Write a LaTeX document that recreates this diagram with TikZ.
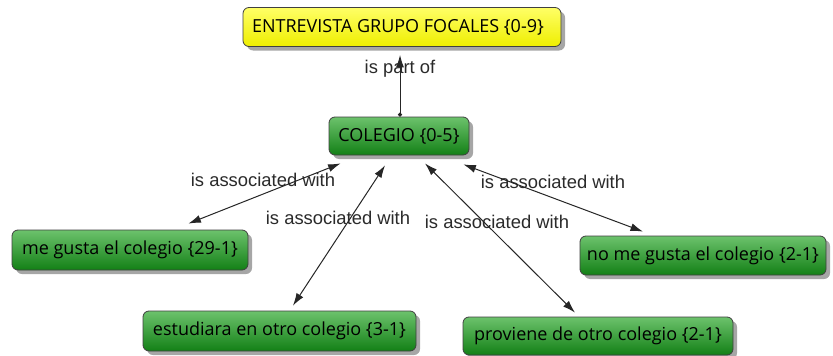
\documentclass[tikz,border=0pt]{standalone}
\usepackage{fontspec}
\setmainfont{Open Sans}
\newfontfamily\labelfont{Liberation Sans}
\usetikzlibrary{shadows,arrows.meta}
\definecolor{gtop}{HTML}{6CC26C}
\definecolor{gbot}{HTML}{138016}
\definecolor{ytop}{HTML}{FFFF66}
\definecolor{ybot}{HTML}{EEEE00}
\definecolor{lbl}{HTML}{2A2A2A}
\begin{document}
\begin{tikzpicture}[x=1pt,y=-1pt,
  concept/.style={draw=black!75, line width=0.8pt, rounded corners=6pt, inner sep=0pt,
    font=\fontsize{18}{20}\selectfont,
    drop shadow={shadow xshift=4pt, shadow yshift=-4pt, fill=black, opacity=0.35}},
  gconcept/.style={concept, top color=gtop, bottom color=gbot},
  yconcept/.style={concept, top color=ytop, bottom color=ybot},
  linklabel/.style={font=\labelfont\fontsize{18.4}{20}\selectfont, text=lbl, inner sep=0pt},
  tip/.tip={Latex[length=12.5pt,width=8pt]},
  conn/.style={line width=1pt, black!85, tip-tip}
]
\fill[white] (0,0) rectangle (833,356);
\useasboundingbox (0,0) rectangle (833,356);

\node[yconcept, minimum width=318pt, minimum height=39pt] (entrevista) at (402,27) {ENTREVISTA GRUPO FOCALES \{0-9\}\hspace*{8pt}};
\node[gconcept, minimum width=140pt, minimum height=38pt] (colegio) at (399,136) {COLEGIO \{0-5\}};
\node[gconcept, minimum width=236pt, minimum height=40pt] (megusta) at (130,250) {me gusta el colegio \{29-1\}};
\node[gconcept, minimum width=273pt, minimum height=40pt] (estudiara) at (279.5,331) {estudiara en otro colegio \{3-1\}};
\node[gconcept, minimum width=270pt, minimum height=38pt] (proviene) at (598,336) {proviene de otro colegio \{2-1\}};
\node[gconcept, minimum width=246pt, minimum height=39pt] (nomegusta) at (703,255.5) {no me gusta el colegio \{2-1\}};

\node[linklabel] (l0) at (400,69) {is part of};
\node[linklabel] (l1) at (263,180) {is associated with};
\node[linklabel] (l2) at (338,218) {is associated with};
\node[linklabel] (l3) at (497,222) {is associated with};
\node[linklabel] (l4) at (553,182) {is associated with};

\draw[line width=1pt, black!85, {Circle[length=4pt]}-tip]
  ([xshift=1pt]colegio.north) -- ([xshift=-2pt,yshift=-8pt]entrevista.south);
\draw[conn] ([xshift=12pt,yshift=-8pt]colegio.south west) -- ([xshift=-60pt,yshift=6pt]megusta.north east);
\draw[conn] ([xshift=-14pt,yshift=-10pt]colegio.south) -- ([xshift=13.5pt,yshift=5pt]estudiara.north);
\draw[conn] ([xshift=26pt,yshift=-8pt]colegio.south) -- ([xshift=-23pt,yshift=4pt]proviene.north);
\draw[conn] ([xshift=-6pt,yshift=-9pt]colegio.south east) -- ([xshift=-60pt,yshift=4pt]nomegusta.north);
\end{tikzpicture}
\end{document}
